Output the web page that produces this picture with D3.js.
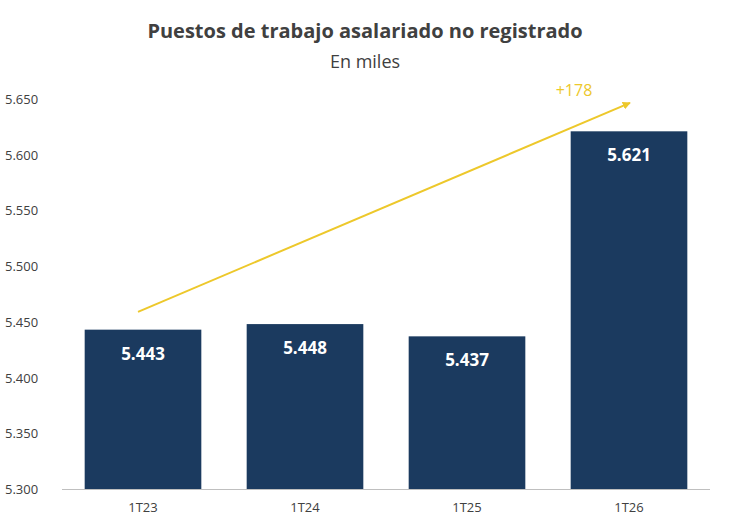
<!DOCTYPE html>
<html>
<head>
<meta charset="utf-8">
<script src="https://d3js.org/d3.v7.min.js"></script>
<style>
  body { margin: 0; background: #fff; font-family: "Open Sans", sans-serif; }
</style>
</head>
<body>
<svg width="730" height="529"></svg>
<script>
// chart data
var categories = ["1T23", "1T24", "1T25", "1T26"];
var values = [5.443, 5.448, 5.437, 5.621];
var valueLabels = ["5.443", "5.448", "5.437", "5.621"];
var yTicks = [5.300, 5.350, 5.400, 5.450, 5.500, 5.550, 5.600, 5.650];
var trendLabel = "+178";
var trendFrom = 5.459, trendTo = 5.6465;

var svg = d3.select("svg");
var x = d3.scaleBand().domain(categories).range([62, 710]).paddingInner(0.28).paddingOuter(0.14);
var y = d3.scaleLinear().domain([5.300, 5.650]).range([489, 99]);

svg.append("text").attr("x", 365).attr("y", 38).attr("text-anchor", "middle")
  .attr("font-size", 20).attr("font-weight", "bold").attr("fill", "#404040")
  .text("Puestos de trabajo asalariado no registrado");
svg.append("text").attr("x", 365).attr("y", 68).attr("text-anchor", "middle")
  .attr("font-size", 18).attr("fill", "#404040").text("En miles");

// y labels
svg.selectAll(".yl").data(yTicks).enter().append("text")
  .attr("x", 5).attr("y", function(d) { return y(d) + 5; })
  .attr("font-size", 13).attr("fill", "#404040")
  .text(function(d) { return d.toFixed(3); });

// bars
svg.selectAll(".bar").data(values).enter().append("rect")
  .attr("x", function(d, i) { return x(categories[i]); })
  .attr("width", x.bandwidth())
  .attr("y", function(d) { return y(d); })
  .attr("height", function(d) { return y(5.300) - y(d); })
  .attr("fill", "#1b3a5f");

svg.selectAll(".vl").data(values).enter().append("text")
  .attr("x", function(d, i) { return x(categories[i]) + x.bandwidth() / 2; })
  .attr("y", function(d) { return y(d) + 30; })
  .attr("text-anchor", "middle").attr("font-size", 17).attr("font-weight", "bold")
  .attr("fill", "#fff").text(function(d, i) { return valueLabels[i]; });

// x axis
svg.append("line").attr("x1", 62).attr("x2", 710).attr("y1", 489.5).attr("y2", 489.5)
  .attr("stroke", "#bfbfbf");
svg.selectAll(".xl").data(categories).enter().append("text")
  .attr("x", function(d) { return x(d) + x.bandwidth() / 2; })
  .attr("y", 512).attr("text-anchor", "middle").attr("font-size", 13).attr("fill", "#404040")
  .text(function(d) { return d; });

// trend arrow
svg.append("defs").append("marker").attr("id", "ah").attr("viewBox", "0 0 10 10")
  .attr("refX", 9).attr("refY", 5).attr("markerWidth", 4).attr("markerHeight", 4)
  .attr("orient", "auto").append("path").attr("d", "M0,0L10,5L0,10z").attr("fill", "#edc82b");
var x0 = x("1T23") + x.bandwidth() / 2 - 5, x1 = x("1T26") + x.bandwidth() / 2 + 1;
svg.append("line").attr("x1", x0).attr("y1", y(trendFrom)).attr("x2", x1).attr("y2", y(trendTo))
  .attr("stroke", "#edc82b").attr("stroke-width", 2).attr("marker-end", "url(#ah)");
svg.append("text").attr("x", 574).attr("y", 96).attr("text-anchor", "middle")
  .attr("font-size", 16).attr("fill", "#edc82b").text(trendLabel);
</script>
</body>
</html>
